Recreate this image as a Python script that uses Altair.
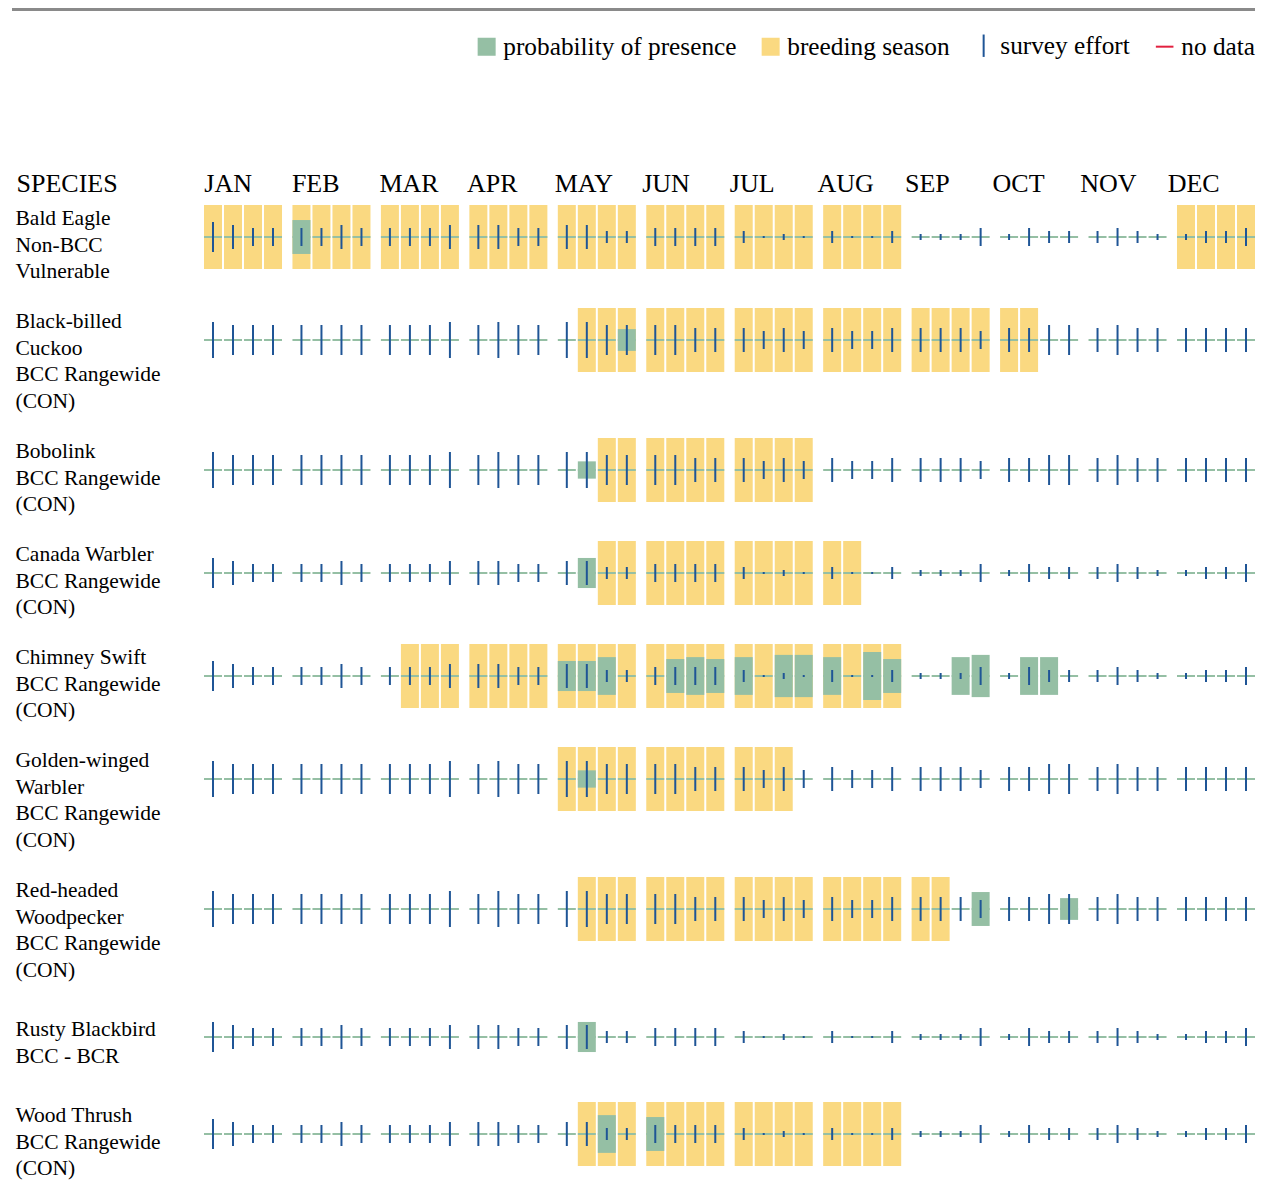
import altair as alt
import pandas as pd

FONT = "Liberation Serif"

MONTHS = ["JAN", "FEB", "MAR", "APR", "MAY", "JUN", "JUL", "AUG", "SEP", "OCT", "NOV", "DEC"]
WEEKS = ["1", "2", "3", "4"]

SPECIES = [
    ["Bald Eagle", "Non-BCC", "Vulnerable"],
    ["Black-billed", "Cuckoo", "BCC Rangewide", "(CON)"],
    ["Bobolink", "BCC Rangewide", "(CON)"],
    ["Canada Warbler", "BCC Rangewide", "(CON)"],
    ["Chimney Swift", "BCC Rangewide", "(CON)"],
    ["Golden-winged", "Warbler", "BCC Rangewide", "(CON)"],
    ["Red-headed", "Woodpecker", "BCC Rangewide", "(CON)"],
    ["Rusty Blackbird", "BCC - BCR"],
    ["Wood Thrush", "BCC Rangewide", "(CON)"],
]

# breeding season, one digit per week, grouped by month
BREEDING = [
    "1111 1111 1111 1111 1111 1111 1111 1111 0000 0000 0000 1111",
    "0000 0000 0000 0000 0111 1111 1111 1111 1111 1100 0000 0000",
    "0000 0000 0000 0000 0011 1111 1111 0000 0000 0000 0000 0000",
    "0000 0000 0000 0000 0011 1111 1111 1100 0000 0000 0000 0000",
    "0000 0000 0111 1111 1111 1111 1111 1111 0000 0000 0000 0000",
    "0000 0000 0000 0000 1111 1111 1110 0000 0000 0000 0000 0000",
    "0000 0000 0000 0000 0111 1111 1111 1111 1100 0000 0000 0000",
    "0000 0000 0000 0000 0000 0000 0000 0000 0000 0000 0000 0000",
    "0000 0000 0000 0000 0111 1111 1111 1111 0000 0000 0000 0000",
]

# probability of presence (fraction of cell height), 48 weeks
Z = [0, 0, 0, 0]
PROB = [
    Z + [.53, 0, 0, 0] + Z * 10,
    Z * 4 + [0, 0, 0, .34] + Z * 7,
    Z * 4 + [0, .27, 0, 0] + Z * 7,
    Z * 4 + [0, .47, 0, 0] + Z * 7,
    Z * 4 + [.47, .47, .59, 0] + [0, .53, .59, .53] + [.59, 0, .66, .66]
    + [.59, 0, .75, .53] + [0, 0, .59, .66] + [0, .59, .59, 0] + Z * 2,
    Z * 4 + [0, .27, 0, 0] + Z * 7,
    Z * 8 + [0, 0, 0, .53] + [0, 0, 0, .34] + Z * 2,
    Z * 4 + [0, .47, 0, 0] + Z * 7,
    Z * 4 + [0, 0, .59, 0] + [.53, 0, 0, 0] + Z * 6,
]

# survey effort levels (0 = a dot)
EFFORT_A = [5, 4, 3, 3, 3, 3, 4, 3, 3, 3, 3, 4, 4, 4, 3, 3, 4, 4, 2, 2, 3, 3, 3, 3,
            2, 0, 1, 0, 2, 0, 0, 2, 1, 1, 1, 3, 1, 3, 2, 2, 2, 3, 2, 1, 1, 2, 2, 3]
EFFORT_B = [6, 5, 5, 5, 5, 5, 5, 5, 5, 5, 5, 6, 5, 6, 5, 5, 6, 6, 5, 5, 5, 5, 4, 4,
            4, 3, 4, 3, 4, 3, 3, 4, 4, 4, 4, 3, 4, 4, 5, 5, 4, 5, 4, 4, 4, 4, 4, 4]
EFFORT_OF = ["A", "B", "B", "A", "A", "B", "B", "A", "A"]

LEGEND_ITEMS = ["probability of presence", "breeding season", "survey effort", "no data"]

YELLOW = "#FAD981"
GREEN = "#95BFA4"
BLUE = "#1F5596"
RED = "#E2203F"

ROW_H = [103, 130, 103, 103, 103, 130, 128, 97, 103]
LABEL_Y = [20.3, 20.3, 20.3, 20.3, 20.3, 20.3, 20.3, 31, 20.3]
LEFT_W = 196
RIGHT_W = 1051
HEAD_H = 39
LEG_H = 158

XSCALE = alt.Scale(paddingInner=0.118, paddingOuter=0)
XOSCALE = alt.Scale(paddingInner=0.1, paddingOuter=0)


def row_frame(k):
    flags = BREEDING[k].replace(" ", "")
    eff = EFFORT_A if EFFORT_OF[k] == "A" else EFFORT_B
    return pd.DataFrame({
        "month": [MONTHS[i // 4] for i in range(48)],
        "week": [WEEKS[i % 4] for i in range(48)],
        "breeding": [int(c) for c in flags],
        "prob": PROB[k],
        "effort": eff,
    })


def cells_chart(k):
    H = ROW_H[k]
    ysc = alt.Scale(domain=[32 - H, 32], nice=False, zero=False)
    base = alt.Chart(row_frame(k)).encode(
        x=alt.X("month:N", sort=MONTHS, scale=XSCALE, axis=None),
        xOffset=alt.XOffset("week:N", sort=WEEKS, scale=XOSCALE),
    )
    breed = base.transform_filter("datum.breeding == 1").mark_rect(color=YELLOW).encode(
        y=alt.YDatum(-32, scale=ysc, axis=None), y2=alt.Y2Datum(32))
    line = base.mark_rect(color=GREEN).encode(
        y=alt.YDatum(-1, scale=ysc, axis=None), y2=alt.Y2Datum(1))
    prob = base.transform_filter("datum.prob > 0").transform_calculate(
        pl="-datum.prob * 32", ph="datum.prob * 32").mark_rect(color=GREEN).encode(
        y=alt.Y("pl:Q", scale=ysc, axis=None), y2="ph:Q")
    eff = base.transform_calculate(
        el="-max(1, datum.effort * 3)", eh="max(1, datum.effort * 3)").mark_rule(
        color=BLUE, strokeWidth=2).encode(
        y=alt.Y("el:Q", scale=ysc, axis=None), y2="eh:Q")
    return alt.layer(breed, line, prob, eff).properties(width=RIGHT_W, height=H)


def label_chart(k):
    df = pd.DataFrame({"lines": [SPECIES[k]]})
    return alt.Chart(df).mark_text(
        align="left", baseline="alphabetic", font=FONT, fontSize=21.5,
        lineHeight=26.5, color="black").encode(
        text="lines:N", x=alt.value(7.5), y=alt.value(LABEL_Y[k])
    ).properties(width=LEFT_W, height=ROW_H[k])


species_head = alt.Chart(pd.DataFrame({"t": ["SPECIES"]})).mark_text(
    align="left", baseline="alphabetic", font=FONT, fontSize=26, color="black").encode(
    text="t:N", x=alt.value(8.5), y=alt.value(26)).properties(width=LEFT_W, height=HEAD_H)

# month names start at the left edge of each month band
month_head = alt.Chart(pd.DataFrame({"month": MONTHS})).mark_text(
    align="left", baseline="alphabetic", font=FONT, fontSize=26, color="black", dx=-43.5).encode(
    x=alt.X("month:N", sort=MONTHS, scale=XSCALE, axis=None),
    y=alt.value(26), text="month:N").properties(width=RIGHT_W, height=HEAD_H)

left = alt.vconcat(species_head, *[label_chart(k) for k in range(9)], spacing=0)
right = alt.vconcat(month_head, *[cells_chart(k) for k in range(9)], spacing=0)
body = alt.hconcat(left, right, spacing=0)

leg = alt.Legend(orient="none", legendX=466, legendY=25, direction="horizontal",
                 title=None, labelFont=FONT, labelFontSize=25.3, labelColor="black",
                 labelLimit=500, symbolSize=256, symbolStrokeWidth=2, labelOffset=4,
                 columnPadding=21, padding=0, symbolOpacity=1)
legend_pts = alt.Chart(pd.DataFrame({"kind": LEGEND_ITEMS})).transform_filter(
    "false").mark_point(filled=True, strokeWidth=2).encode(
    fill=alt.Fill("kind:N", scale=alt.Scale(domain=LEGEND_ITEMS, range=[GREEN, YELLOW, BLUE, RED]), legend=leg),
    stroke=alt.Stroke("kind:N", scale=alt.Scale(domain=LEGEND_ITEMS, range=[GREEN, YELLOW, BLUE, RED]), legend=leg),
    shape=alt.Shape("kind:N", scale=alt.Scale(domain=LEGEND_ITEMS,
                    range=["square", "square", "M0,-1.4L0,1.4", "M-1.1,0L1.1,0"]), legend=leg),
)
hr = alt.Chart(pd.DataFrame({"v": [0]})).mark_rule(color="#8a8a8a", strokeWidth=3).encode(
    x=alt.value(4), x2=alt.value(1247), y=alt.value(1.5))
legend_chart = alt.layer(hr, legend_pts).properties(width=LEFT_W + RIGHT_W, height=LEG_H)

chart = alt.vconcat(legend_chart, body, spacing=0).properties(
    padding={"left": 0, "top": 0, "right": 0, "bottom": 0}
).configure_view(stroke=None)

chart.save("out.html", embed_options={"renderer": "svg", "actions": False})
